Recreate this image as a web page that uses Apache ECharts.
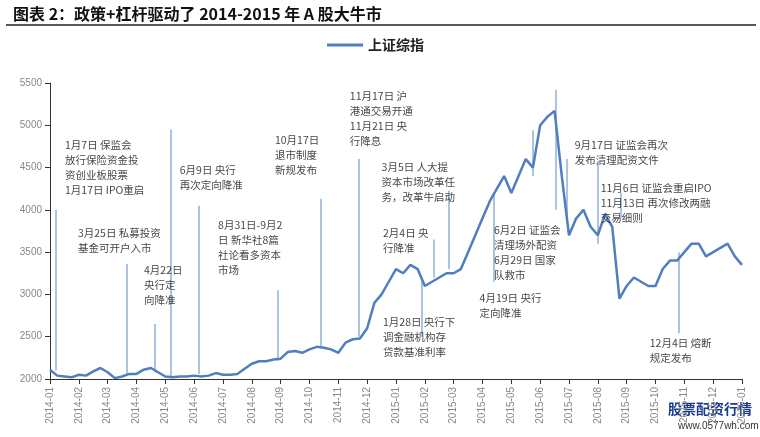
<!DOCTYPE html>
<html><head><meta charset="utf-8">
<script src="https://cdn.jsdelivr.net/npm/echarts@6/dist/echarts.min.js"></script>
<style>html,body{margin:0;padding:0;background:#fff}#c{width:760px;height:437px}</style>
</head><body><div id="c"></div>
<script>
const monthLabels = ['2014-01','2014-02','2014-03','2014-04','2014-05','2014-06','2014-07','2014-08','2014-09','2014-10','2014-11','2014-12','2015-01','2015-02','2015-03','2015-04','2015-05','2015-06','2015-07','2015-08','2015-09','2015-10','2015-11','2015-12','2016-01'];
// weekly closes, 4 per month
const weekly = [
2110,2040,2030,2020, 2050,2040,2090,2130, 2080,2010,2030,2060, 2060,2110,2130,2080,
2030,2020,2030,2030, 2040,2030,2040,2070, 2050,2050,2060,2120, 2180,2210,2210,2230,
2240,2320,2330,2310, 2350,2380,2370,2350, 2310,2430,2470,2480, 2600,2900,3000,3150,
3300,3250,3350,3300, 3100,3150,3200,3250, 3250,3300,3500,3700, 3900,4100,4250,4400,
4200,4400,4600,4500, 5000,5100,5170,4400, 3700,3900,4000,3800, 3700,3950,3800,2950,
3100,3200,3150,3100, 3100,3300,3400,3400, 3500,3600,3600,3450, 3500,3550,3600,3450, 3350];
// event lines: [month position, low, high]
const eventLines = [
[0.2,2100,4000],[2.66,2050,3360],[3.64,2080,2650],[4.2,2030,4950],[5.17,2060,4050],
[7.9,2220,3050],[9.4,2380,4130],[10.7,2500,4600],[12.9,2500,3200],[13.3,3200,3650],
[13.84,3300,4230],[15.4,3150,4200],[16.75,4400,4940],[17.55,4000,5420],[17.93,3900,4600],
[19.0,3600,4550],[19.8,3900,4200],[21.8,2540,3500]];
// annotation texts: [month position, value, text]
const notes = [
[0.52,4850,'1月7日 保监会\n放行保险资金投\n资创业板股票\n1月17日 IPO重启'],
[2.5,5680,'5月9日《关于进一步\n促进资本市场健康发\n展的若干意见》'],
[4.5,4565,'6月9日 央行\n再次定向降准'],
[7.8,4910,'10月17日\n退市制度\n新规发布'],
[10.4,5440,'11月17日 沪\n港通交易开通\n11月21日 央\n行降息'],
[0.97,3820,'3月25日 私募投资\n基金可开户入市'],
[3.26,3380,'4月22日\n央行定\n向降准'],
[5.83,3915,'8月31日-9月2\n日 新华社8篇\n社论看多资本\n市场'],
[11.5,4590,'3月5日 人大提\n资本市场改革任\n务，改革牛启动'],
[11.55,3810,'2月4日 央\n行降准'],
[11.55,2760,'1月28日 央行下\n调金融机构存\n贷款基准利率'],
[15.4,3855,'6月2日 证监会\n清理场外配资\n6月29日 国家\n队救市'],
[14.9,3050,'4月19日 央行\n定向降准'],
[15.4,5830,'8月3日 两融交易细则修改\n8月11日 汇改启动\n8月25日 央行降准降息'],
[18.2,4850,'9月17日 证监会再次\n发布清理配资文件'],
[19.1,4350,'11月6日 证监会重启IPO\n11月13日 再次修改两融\n交易细则'],
[20.8,2510,'12月4日 熔断\n规定发布']];
const yTicks = [2000,2500,3000,3500,4000,4500,5000,5500];

const chart = echarts.init(document.getElementById('c'));
const F = '"Noto Sans CJK SC", sans-serif';
chart.setOption({
  animation:false,
  title:{text:'图表 2：政策+杠杆驱动了 2014-2015 年 A 股大牛市',left:8,top:1,
    textStyle:{fontFamily:'"Noto Sans CJK SC"',fontSize:16,fontWeight:'bold',color:'#111'}},
  graphic:[
    {type:'line',shape:{x1:6,y1:25,x2:756,y2:25},style:{stroke:'#222',lineWidth:1.5}},
    {type:'text',left:668,top:402,style:{text:'股票配资行情',font:'bold 14px "Noto Sans CJK SC"',fill:'#1a3b8c'}},
    {type:'text',left:678,top:421,style:{text:'www.0577wh.com',font:'10px sans-serif',fill:'#333'}}
  ],
  legend:{top:33,left:322,itemWidth:36,itemHeight:3,icon:'rect',data:['上证综指'],
    textStyle:{fontFamily:F,fontSize:14,fontWeight:'bold',color:'#222'}},
  grid:{left:50,right:18,top:83,bottom:58},
  xAxis:{type:'value',min:0,max:24,interval:1,
    axisLine:{lineStyle:{color:'#333'}},axisTick:{show:true,lineStyle:{color:'#333'}},
    splitLine:{show:false},
    axisLabel:{rotate:90,fontSize:10,color:'#888',fontFamily:'"Liberation Sans"',
      formatter:v=>monthLabels[v]}},
  yAxis:{type:'value',min:2000,max:5500,interval:500,
    axisLine:{show:true,lineStyle:{color:'#333'}},axisTick:{show:true},splitLine:{show:false},
    axisLabel:{fontSize:10,color:'#888',fontFamily:'"Liberation Sans"',formatter:v=>String(v)}},
  series:[
    {type:'lines',coordinateSystem:'cartesian2d',z:1,silent:true,
      lineStyle:{color:'#8fb0d4',width:1.5,opacity:1},
      data:eventLines.map(e=>({coords:[[e[0],e[1]],[e[0],e[2]]]}))},
    {name:'上证综指',type:'line',z:3,symbol:'none',
      lineStyle:{color:'#4f7fbf',width:2.5},itemStyle:{color:'#4f7fbf'},
      data:weekly.map((v,i)=>[i/4,v])},
    {type:'scatter',z:4,symbolSize:0,silent:true,
      label:{show:true,position:[0,0],align:'left',verticalAlign:'top',
        fontFamily:F,fontSize:10.5,lineHeight:15,color:'#111',
        formatter:p=>p.data[2]},
      data:notes}
  ]
});
</script></body></html>
